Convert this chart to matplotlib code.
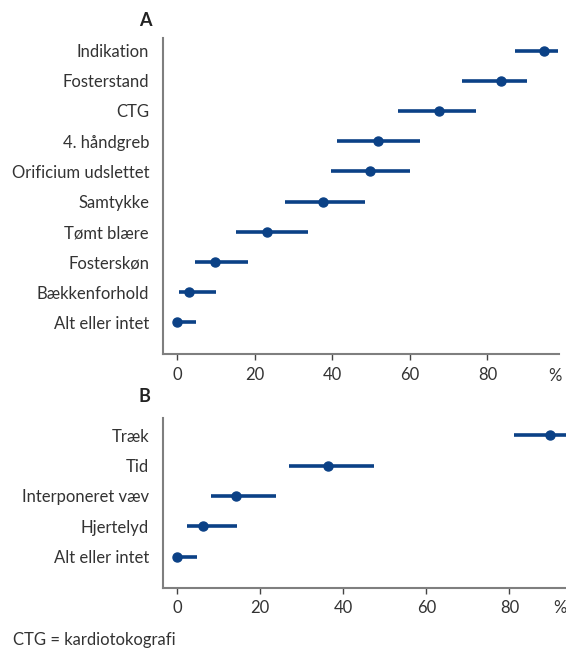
import numpy as np
import matplotlib.pyplot as plt

# ---------------------------------------------------------------
# Data: point estimate with lower/upper limits, in %
# ---------------------------------------------------------------
labels_a = ["Alt eller intet", "Bækkenforhold", "Fosterskøn", "Tømt blære", "Samtykke",
            "Orificium udslettet", "4. håndgreb", "CTG", "Fosterstand", "Indikation"]
est_a = [0.0, 2.9, 9.7, 23.1, 37.5, 49.7, 51.8, 67.6, 83.4, 94.6]
low_a = [0.0, 0.5, 4.5, 15.1, 27.8, 39.7, 41.2, 56.8, 73.5, 87.0]
high_a = [4.9, 10.0, 18.2, 33.8, 48.5, 60.0, 62.6, 77.0, 90.1, 98.3]

labels_b = ["Alt eller intet", "Hjertelyd", "Interponeret væv", "Tid", "Træk"]
est_b = [0.0, 6.3, 14.1, 36.4, 89.8]
low_b = [0.0, 2.4, 8.1, 27.0, 81.2]
high_b = [4.8, 14.5, 23.8, 47.3, 97.0]

xticks = [0, 20, 40, 60, 80]

navy = "#0b4186"
grey = "#7f7f7f"
txt = "#333333"
fs = 12

plt.rcParams["font.family"] = ["Lato", "DejaVu Sans"]

fig = plt.figure(figsize=(5.66, 6.52), dpi=100)
ax_a = fig.add_axes([0.288, 0.457, 0.700, 0.485])
ax_b = fig.add_axes([0.288, 0.0986, 0.712, 0.2596])


def panel(ax, labels, est, low, high, xlim, ylim):
    y = np.arange(len(labels))
    ax.hlines(y, low, high, color=navy, lw=2.6, zorder=2)
    ax.plot(est, y, "o", color=navy, ms=6.5, zorder=3)
    ax.set_xlim(*xlim)
    ax.set_ylim(*ylim)
    ax.set_yticks(y)
    ax.set_yticklabels(labels, fontsize=fs, color=txt)
    ax.set_xticks(xticks)
    ax.set_xticklabels([str(v) for v in xticks], fontsize=fs, color=txt)
    ax.tick_params(axis="y", length=0, pad=10)
    ax.tick_params(axis="x", length=4, width=1, color="#444444", pad=5)
    for s in ["top", "right"]:
        ax.spines[s].set_visible(False)
    for s in ["left", "bottom"]:
        ax.spines[s].set_color(grey)
        ax.spines[s].set_linewidth(1.5)


panel(ax_a, labels_a, est_a, low_a, high_a, (-3.7, 98.5), (-1.05, 9.42))
panel(ax_b, labels_b, est_b, low_b, high_b, (-3.4, 93.6), (-1.02, 4.55))

fig.text(555 / 566, 1 - 376 / 652, "%", fontsize=fs, color=txt, ha="center", va="center")
fig.text(560 / 566, 1 - 608 / 652, "%", fontsize=fs, color=txt, ha="center", va="center")

fig.text(145 / 566, 1 - 20 / 652, "A", fontsize=13, fontweight="bold", color="#222222",
         ha="center", va="center")
fig.text(144 / 566, 1 - 397 / 652, "B", fontsize=13, fontweight="bold", color="#222222",
         ha="center", va="center")

fig.text(13 / 566, 1 - 640 / 652, "CTG = kardiotokografi", fontsize=fs, color=txt,
         ha="left", va="center")

fig.savefig("out.png", dpi=100)
